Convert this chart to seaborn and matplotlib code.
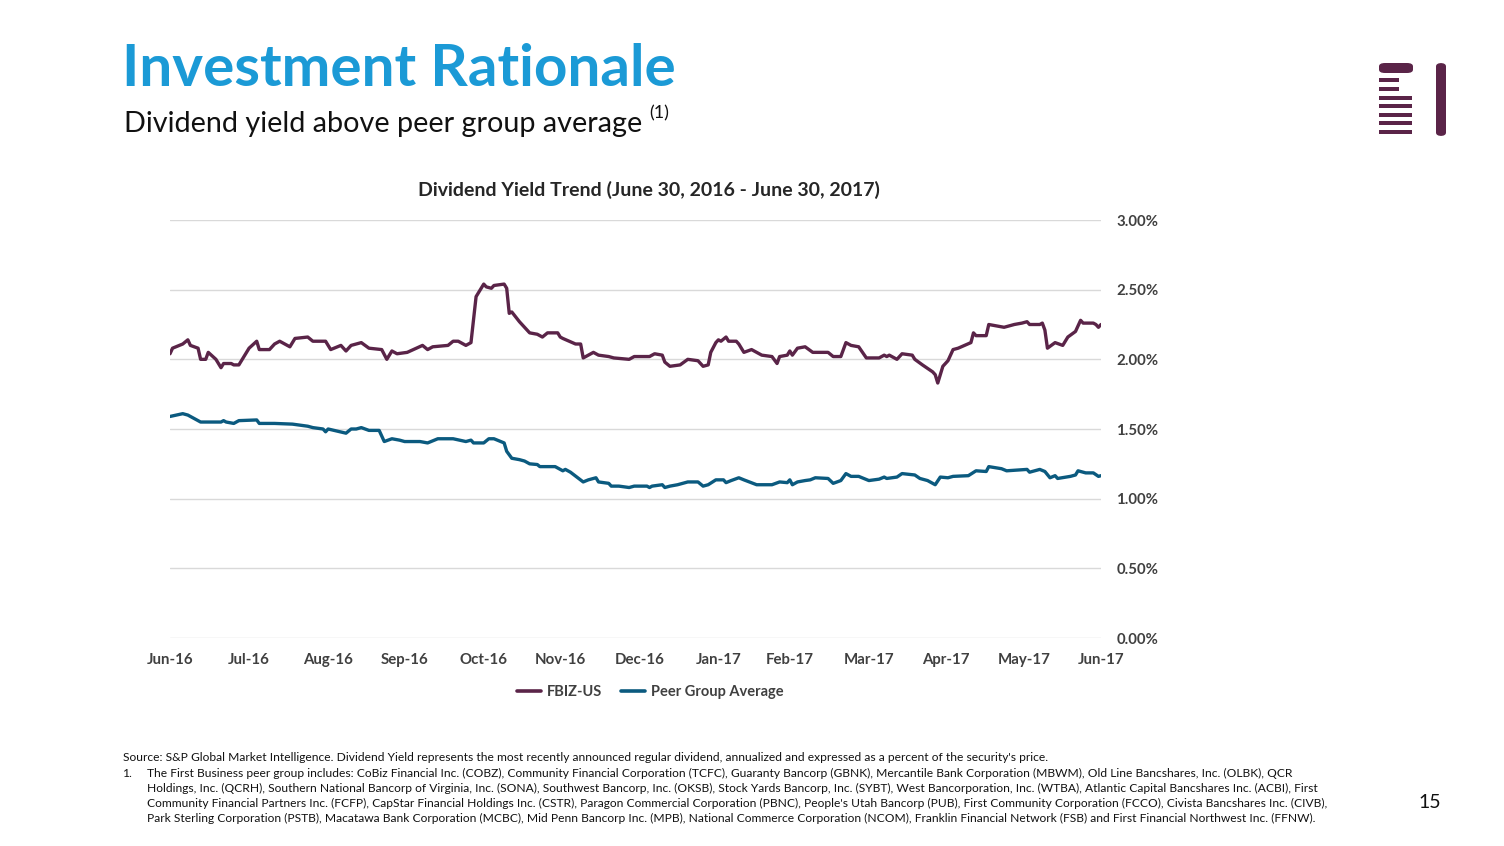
import numpy as np
import pandas as pd
import matplotlib
matplotlib.use("Agg")
import matplotlib.pyplot as plt
import matplotlib.patches as mpatches
from matplotlib.lines import Line2D
import matplotlib.ticker as mticker
import matplotlib.dates as mdates
import seaborn as sns

# ---------------- data ----------------
start_date = "2016-06-30"
fbiz_days = [0, 1, 5, 7, 8, 11, 12, 14, 15, 18, 20, 21, 24, 25, 27, 29, 31, 34, 35, 39,
             41, 43, 47, 49, 54, 56, 61, 63, 67, 69, 71, 75, 78, 83, 85, 87, 89, 93, 99, 101,
             103, 109, 111, 113, 116, 118, 120, 123, 124, 126, 127, 131, 132, 133, 134, 137, 141, 144, 146, 148,
             152, 153, 154, 159, 161, 162, 166, 168, 172, 174, 180, 182, 188, 190, 193, 194, 196, 200, 203, 207,
             209, 211, 212, 214, 215, 216, 218, 219, 222, 223, 225, 228, 232, 236, 238, 239, 242, 243, 244, 246,
             249, 252, 258, 260, 263, 265, 267, 270, 273, 278, 280, 281, 282, 285, 287, 291, 292, 295, 299, 300,
             301, 303, 305, 307, 309, 314, 315, 316, 320, 321, 327, 329, 331, 334, 336, 337, 341, 342, 343, 344,
             347, 350, 352, 355, 357, 358, 362, 363, 364, 365]
fbiz_vals = [2.04, 2.08, 2.11, 2.14, 2.10, 2.08, 2.00, 2.00, 2.05, 2.00, 1.94, 1.97, 1.97, 1.96, 1.96, 2.02, 2.08, 2.13, 2.07, 2.07,
             2.11, 2.13, 2.09, 2.15, 2.16, 2.13, 2.13, 2.07, 2.10, 2.06, 2.10, 2.12, 2.08, 2.07, 2.00, 2.06, 2.04, 2.05, 2.10, 2.07,
             2.09, 2.10, 2.13, 2.13, 2.10, 2.12, 2.45, 2.54, 2.52, 2.51, 2.53, 2.54, 2.51, 2.33, 2.34, 2.27, 2.19, 2.18, 2.16, 2.19,
             2.19, 2.16, 2.15, 2.11, 2.11, 2.01, 2.05, 2.03, 2.02, 2.01, 2.00, 2.02, 2.02, 2.04, 2.03, 1.98, 1.95, 1.96, 2.00, 1.99,
             1.95, 1.96, 2.05, 2.12, 2.14, 2.13, 2.16, 2.13, 2.13, 2.11, 2.05, 2.07, 2.03, 2.02, 1.97, 2.02, 2.03, 2.06, 2.03, 2.08,
             2.09, 2.05, 2.05, 2.02, 2.02, 2.12, 2.10, 2.09, 2.01, 2.01, 2.03, 2.02, 2.03, 2.00, 2.04, 2.03, 2.00, 1.96, 1.91, 1.89,
             1.83, 1.95, 1.99, 2.07, 2.08, 2.12, 2.19, 2.17, 2.17, 2.25, 2.23, 2.24, 2.25, 2.26, 2.27, 2.25, 2.25, 2.26, 2.21, 2.08,
             2.12, 2.10, 2.16, 2.20, 2.28, 2.26, 2.26, 2.25, 2.23, 2.25]

peer_days = [0, 5, 7, 12, 20, 21, 22, 25, 27, 34, 35, 38, 41, 48, 54, 56, 60, 61, 62, 69,
             71, 73, 75, 78, 82, 84, 87, 90, 92, 98, 101, 105, 111, 116, 118, 119, 123, 125, 127, 131,
             132, 134, 137, 139, 141, 144, 145, 151, 154, 155, 157, 162, 164, 167, 168, 172, 173, 176, 180, 182,
             187, 188, 189, 193, 194, 196, 199, 203, 207, 209, 211, 214, 217, 218, 220, 223, 225, 230, 236, 239,
             242, 243, 244, 246, 249, 251, 253, 258, 260, 263, 265, 267, 270, 274, 278, 280, 281, 285, 287, 292,
             294, 297, 300, 302, 305, 307, 313, 316, 320, 321, 326, 328, 336, 337, 341, 343, 345, 347, 348, 353,
             355, 356, 359, 362, 364, 365]
peer_vals = [1.59, 1.61, 1.60, 1.55, 1.55, 1.56, 1.55, 1.54, 1.56, 1.565, 1.54, 1.54, 1.54, 1.535, 1.52, 1.51, 1.50, 1.48, 1.50, 1.47,
             1.50, 1.50, 1.51, 1.49, 1.49, 1.41, 1.43, 1.42, 1.41, 1.41, 1.40, 1.43, 1.43, 1.41, 1.42, 1.40, 1.40, 1.43, 1.43, 1.40,
             1.34, 1.29, 1.28, 1.27, 1.25, 1.245, 1.23, 1.23, 1.20, 1.21, 1.19, 1.12, 1.135, 1.15, 1.12, 1.11, 1.09, 1.09, 1.08, 1.09,
             1.09, 1.08, 1.09, 1.10, 1.08, 1.09, 1.10, 1.12, 1.12, 1.09, 1.10, 1.135, 1.135, 1.115, 1.13, 1.15, 1.135, 1.10, 1.10, 1.12,
             1.115, 1.135, 1.10, 1.12, 1.13, 1.135, 1.15, 1.145, 1.11, 1.13, 1.18, 1.16, 1.16, 1.13, 1.14, 1.155, 1.145, 1.155, 1.18, 1.17,
             1.145, 1.13, 1.10, 1.155, 1.15, 1.16, 1.165, 1.20, 1.195, 1.23, 1.215, 1.20, 1.21, 1.19, 1.21, 1.195, 1.15, 1.165, 1.145, 1.16,
             1.17, 1.20, 1.185, 1.185, 1.16, 1.165]

series_names = ["FBIZ-US", "Peer Group Average"]
series_colors = ["#5a2448", "#0b5a7f"]
y_ticks = [0.0, 0.5, 1.0, 1.5, 2.0, 2.5, 3.0]

title = "Investment Rationale"
subtitle = "Dividend yield above peer group average"
chart_title = "Dividend Yield Trend (June 30, 2016 - June 30, 2017)"
page_number = "15"
footnote_lines = [
    "Source: S&P Global Market Intelligence. Dividend Yield represents the most recently announced regular dividend, annualized and expressed as a percent of the security's price.",
    "The First Business peer group includes: CoBiz Financial Inc. (COBZ), Community Financial Corporation (TCFC), Guaranty Bancorp (GBNK), Mercantile Bank Corporation (MBWM), Old Line Bancshares, Inc. (OLBK), QCR",
    "Holdings, Inc. (QCRH), Southern National Bancorp of Virginia, Inc. (SONA), Southwest Bancorp, Inc. (OKSB), Stock Yards Bancorp, Inc. (SYBT), West Bancorporation, Inc. (WTBA), Atlantic Capital Bancshares Inc. (ACBI), First",
    "Community Financial Partners Inc. (FCFP), CapStar Financial Holdings Inc. (CSTR), Paragon Commercial Corporation (PBNC), People's Utah Bancorp (PUB), First Community Corporation (FCCO), Civista Bancshares Inc. (CIVB),",
    "Park Sterling Corporation (PSTB), Macatawa Bank Corporation (MCBC), Mid Penn Bancorp Inc. (MPB), National Commerce Corporation (NCOM), Franklin Financial Network (FSB) and First Financial Northwest Inc. (FFNW).",
]

# ---------------- build frame ----------------
t0 = pd.Timestamp(start_date)
df = pd.concat([
    pd.DataFrame({"date": t0 + pd.to_timedelta(fbiz_days, unit="D"), "yield": fbiz_vals, "series": series_names[0]}),
    pd.DataFrame({"date": t0 + pd.to_timedelta(peer_days, unit="D"), "yield": peer_vals, "series": series_names[1]}),
], ignore_index=True)

sns.set_theme(style="white")
plt.rcParams["font.family"] = ["Lato", "DejaVu Sans"]

W, H = 1504, 846
fig = plt.figure(figsize=(W / 100, H / 100), dpi=100)
fig.patch.set_facecolor("white")

ax = fig.add_axes([170 / W, 1 - 638 / H, (1101 - 170) / W, (638 - 220) / H])
sns.lineplot(data=df, x="date", y="yield", hue="series", hue_order=series_names,
             palette=series_colors, linewidth=2.4, legend=False, ax=ax, estimator=None, sort=False)

ax.set_xlim(t0, t0 + pd.Timedelta(days=365))
ax.set_ylim(0, 3.0)
ax.set_yticks(y_ticks)
ax.yaxis.set_major_formatter(mticker.FuncFormatter(lambda v, p: f"{v:.2f}%"))
ax.yaxis.tick_right()
ax.yaxis.grid(True, color="#d9d9d9", linewidth=1.0)
ax.xaxis.grid(False)
month_ticks = pd.date_range(t0, t0 + pd.Timedelta(days=365), freq="ME")
ax.set_xticks(month_ticks)
ax.xaxis.set_major_formatter(mdates.DateFormatter("%b-%y"))
for s in ax.spines.values():
    s.set_visible(False)
ax.tick_params(axis="both", length=0, labelsize=10.8, labelcolor="#404040")
ax.tick_params(axis="y", pad=11)
ax.tick_params(axis="x", pad=11)
for lab in ax.get_xticklabels() + ax.get_yticklabels():
    lab.set_fontweight("bold")
ax.set_xlabel("")
ax.set_ylabel("")

# chart title
fig.text(649 / W, 1 - 190 / H, chart_title, ha="center", va="center", fontsize=14,
         fontweight="bold", color="#262626")

# legend
handles = [Line2D([0], [0], color=c, linewidth=2.6) for c in series_colors]
leg = fig.legend(handles, series_names, loc="center", bbox_to_anchor=(650 / W, 1 - 692 / H),
                 ncol=2, frameon=False, handlelength=1.65, handletextpad=0.4, columnspacing=1.3,
                 prop={"weight": "bold", "size": 10.5})
for t in leg.get_texts():
    t.set_color("#404040")

# slide titles
fig.text(122 / W, 1 - 70 / H, title, ha="left", va="center", fontsize=42, fontweight="bold",
         color="#1b9ad6")
fig.text(124 / W, 1 - 124 / H, subtitle, ha="left", va="center", fontsize=20.7, color="#111111")
fig.text(649 / W, 1 - 113 / H, "(1)", ha="left", va="center", fontsize=13, color="#111111")

# footnotes
fy = [757, 773, 788, 803, 818]
fn_size = 8.65
for i, (yy, line) in enumerate(zip(fy, footnote_lines)):
    x = 123 if i == 0 else 147
    fig.text(x / W, 1 - yy / H, line, ha="left", va="center", fontsize=fn_size, color="#111111")
fig.text(123 / W, 1 - 773 / H, "1.", ha="left", va="center", fontsize=fn_size, color="#111111")

fig.text(1430 / W, 1 - 802 / H, page_number, ha="center", va="center", fontsize=14, color="#111111")

# logo
logo_c = "#5a2448"
def px_rect(x0, y0, x1, y1, **kw):
    return mpatches.FancyBboxPatch((x0 / W, 1 - y1 / H), (x1 - x0) / W, (y1 - y0) / H,
                                   transform=fig.transFigure, facecolor=logo_c, edgecolor="none", **kw)
fig.patches.append(px_rect(1379, 63, 1413, 73, boxstyle="round,pad=0,rounding_size=0.004"))
for (y0, y1, x1) in [(78, 82, 1399), (87, 91, 1399), (96, 100, 1412), (104, 108, 1412),
                     (113, 117, 1412), (121, 125, 1412), (130, 134, 1412)]:
    fig.patches.append(px_rect(1379, y0, x1, y1, boxstyle="square,pad=0"))
fig.patches.append(px_rect(1436, 63, 1446, 136, boxstyle="round,pad=0,rounding_size=0.004"))

fig.savefig("out.png", dpi=100, facecolor="white")
